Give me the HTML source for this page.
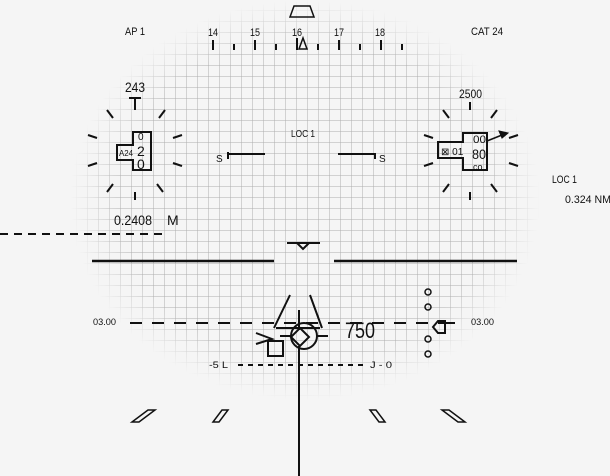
<!DOCTYPE html><html><head><style>html,body{margin:0;padding:0;background:#f5f5f5}svg{display:block}</style></head><body>
<svg width="610" height="476" xmlns="http://www.w3.org/2000/svg" font-family="Liberation Sans, sans-serif">
<defs>
<pattern id="g" width="11" height="11" patternUnits="userSpaceOnUse"><path d="M11 0V11M0 11H11" fill="none" stroke="#adadad" stroke-width="1"/></pattern>
<radialGradient id="rg" cx="0.5" cy="0.5" r="0.5"><stop offset="0.8" stop-color="#fff"/><stop offset="1" stop-color="#000"/></radialGradient>
<mask id="m"><rect x="70" y="0" width="470" height="400" fill="url(#rg)"/></mask>
</defs>
<rect width="610" height="476" fill="#f5f5f5"/>
<rect x="70" y="0" width="470" height="400" fill="url(#g)" mask="url(#m)"/>
<g stroke="#111" fill="none" stroke-width="2">
<path d="M290 17L294 6H310L314 17Z" stroke-width="1.5"/>
<path d="M213 40V50M255 40V50M339 40V50M381 40V50M234 44V50M276 44V50M318 44V50M360 44V50M402 44V50M297 38V50"/>
<path d="M299 49L303 38L307 49Z" stroke-width="1.5"/>
<path d="M129 98H141M135 98V110"/>
<path d="M107 110L113 118M165 110L159 118M88 135L97 138M182 135L173 138M88 166L97 163M182 166L173 163M107 192L113 184M163 192L157 184M135 192V200"/>
<path d="M133 132H151V170H133V160H117V145H133Z"/>
<path d="M470 102V110M443 110L449 118M497 110L491 118M424 135L433 138M518 135L509 138M424 166L433 163M518 166L509 163M443 192L449 184M497 192L491 184M470 192V200"/>
<path d="M463 133H487V170H463V158H438V142H463Z"/>
<path d="M487 141L502 135" stroke-width="1.5"/><path d="M508 133L499 131L502 138Z" fill="#111" stroke-width="1"/>
<path d="M228 152V159M228 154H265M338 154H375V159"/>
<path d="M0 234H163" stroke-dasharray="8,6"/>
<path d="M287 243H320M297 243L303 249L309 243"/>
<path d="M92 261H274M334 261H517" stroke-width="2.5"/>
<path d="M130 323H455" stroke-dasharray="12,10"/>
<path d="M290 295L274 328M310 295L322 328M276 328H320M299 310V330"/>
<circle cx="304" cy="336" r="13"/>
<path d="M300 328L309 337L300 346L291 337Z"/>
<path d="M280 336H291M317 336H328"/>
<path d="M299 346V476"/>
<path d="M256 333L272 339L256 344"/>
<rect x="268" y="341" width="15" height="15"/>
<circle cx="428" cy="292" r="3" stroke-width="1.5"/><circle cx="428" cy="307" r="3" stroke-width="1.5"/><circle cx="428" cy="339" r="3" stroke-width="1.5"/><circle cx="428" cy="354" r="3" stroke-width="1.5"/>
<path d="M445 321H438L433 327L438 333H445Z M445 323H455"/>
<path d="M238 365H365" stroke-dasharray="5,5"/>
<path d="M132 422L148 410H155L139 422Z M213 422L222 410H228L219 422Z M385 422L376 410H370L379 422Z M465 422L449 410H442L458 422Z" stroke-width="1.5"/>
</g>
<g fill="#111" font-size="11">
<text x="125" y="35" textLength="20" lengthAdjust="spacingAndGlyphs">AP 1</text>
<text x="471" y="35" textLength="32" lengthAdjust="spacingAndGlyphs">CAT 24</text>
<text x="208" y="36" textLength="10" lengthAdjust="spacingAndGlyphs">14</text><text x="250" y="36" textLength="10" lengthAdjust="spacingAndGlyphs">15</text><text x="292" y="36" textLength="10" lengthAdjust="spacingAndGlyphs">16</text><text x="334" y="36" textLength="10" lengthAdjust="spacingAndGlyphs">17</text><text x="375" y="36" textLength="10" lengthAdjust="spacingAndGlyphs">18</text>
<text x="125" y="92" font-size="14" textLength="20" lengthAdjust="spacingAndGlyphs">243</text>
<text x="459" y="98" font-size="12" textLength="23" lengthAdjust="spacingAndGlyphs">2500</text>
<text x="119" y="156" font-size="8" textLength="14" lengthAdjust="spacingAndGlyphs">A24</text>
<text x="138" y="140" font-size="10">0</text><text x="137" y="156" font-size="14">2</text><text x="137" y="169" font-size="14">0</text>
<text x="441" y="155" font-size="10">⊠ 01</text>
<text x="473" y="143" font-size="11" textLength="13" lengthAdjust="spacingAndGlyphs">00</text><text x="472" y="159" font-size="14" textLength="14" lengthAdjust="spacingAndGlyphs">80</text><text x="473" y="170" font-size="9">co</text>
<text x="114" y="225" font-size="14" textLength="38" lengthAdjust="spacingAndGlyphs">0.2408</text><text x="167" y="225" font-size="14">M</text>
<text x="291" y="137" font-size="10" textLength="24" lengthAdjust="spacingAndGlyphs">LOC 1</text>
<text x="216" y="162" font-size="10">S</text><text x="379" y="162" font-size="10">S</text>
<text x="552" y="183" font-size="11" textLength="25" lengthAdjust="spacingAndGlyphs">LOC 1</text>
<text x="565" y="203" font-size="11" textLength="46" lengthAdjust="spacingAndGlyphs">0.324 NM</text>
<text x="93" y="325" font-size="9" textLength="23" lengthAdjust="spacingAndGlyphs">03.00</text><text x="471" y="325" font-size="9" textLength="23" lengthAdjust="spacingAndGlyphs">03.00</text>
<text x="345" y="338" font-size="22" textLength="30" lengthAdjust="spacingAndGlyphs">750</text>
<text x="209" y="368" font-size="9" textLength="19" lengthAdjust="spacingAndGlyphs">-5 L</text><text x="370" y="368" font-size="9" textLength="22" lengthAdjust="spacingAndGlyphs">J - 0</text>
</g>
</svg></body></html>
